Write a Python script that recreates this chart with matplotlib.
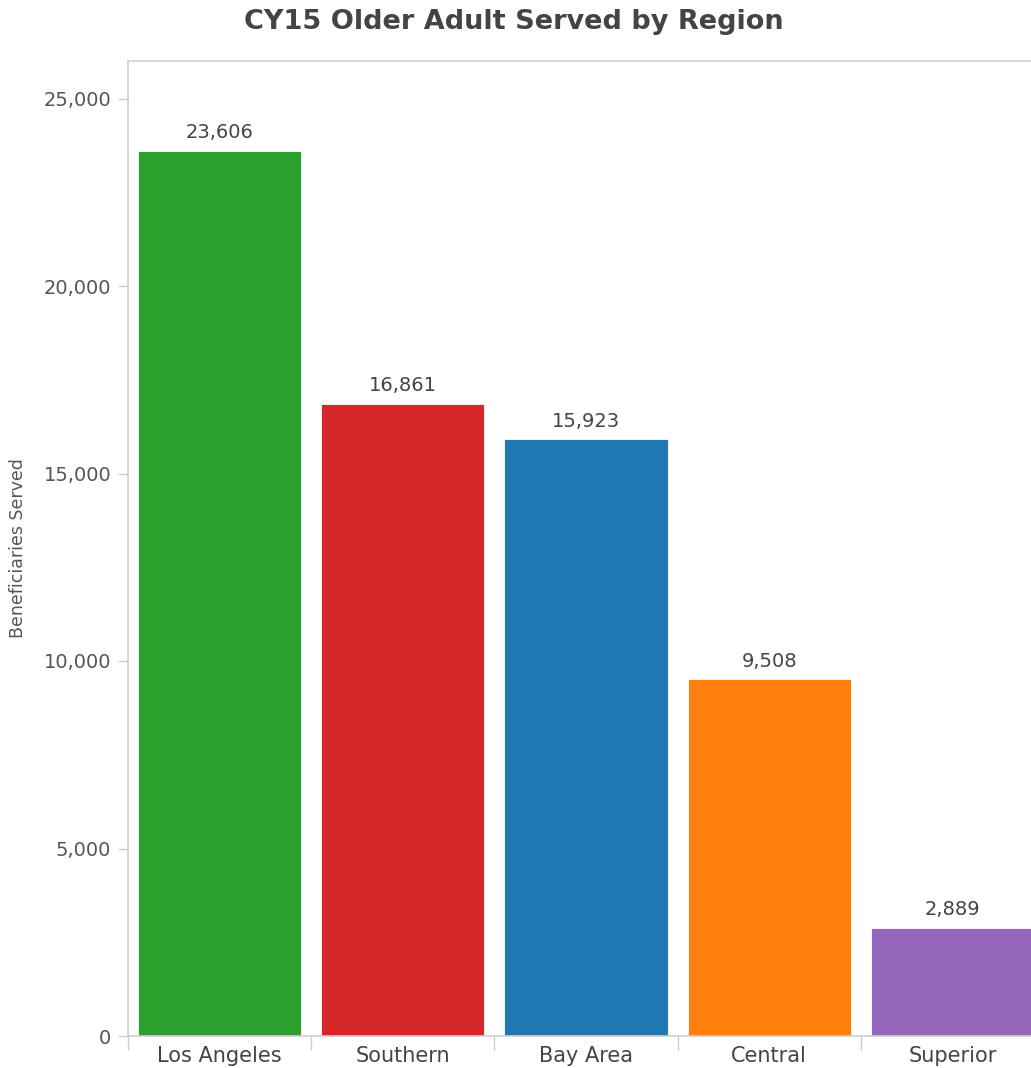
import matplotlib
matplotlib.use("Agg")
import matplotlib.pyplot as plt
from matplotlib.ticker import FuncFormatter, FixedLocator

regions = ["Los Angeles", "Southern", "Bay Area", "Central", "Superior"]
served = [23606, 16861, 15923, 9508, 2889]
colors = ["#2ca02c", "#d62728", "#1f77b4", "#ff7f0e", "#9467bd"]
y_ticks = [0, 5000, 10000, 15000, 20000, 25000]

W, H = 1031, 1068
fig = plt.figure(figsize=(W / 100, H / 100), dpi=100)
fig.patch.set_facecolor("white")

# plot area runs slightly past the right edge of the canvas
left, right = 128 / W, 1044 / W
bottom, top = 1 - 1036 / H, 1 - 61 / H
ax = fig.add_axes([left, bottom, right - left, top - bottom])

x = range(len(regions))
bars = ax.bar(x, served, width=0.89, color=colors, edgecolor="white",
              linewidth=0.6, zorder=2)

for xi, v in zip(x, served):
    ax.annotate(f"{v:,}", (xi, v), xytext=(0, 6), textcoords="offset points",
                ha="center", va="bottom", fontsize=14, color="#444444")

ax.set_xlim(-0.5, len(regions) - 0.5)
ax.set_ylim(0, 26000)

grey = "#cfcfcf"
ax.spines["right"].set_visible(False)
for s in ["left", "bottom", "top"]:
    ax.spines[s].set_color(grey)
    ax.spines[s].set_linewidth(1.2)

ax.set_yticks(y_ticks)
ax.yaxis.set_major_formatter(FuncFormatter(lambda v, p: f"{int(v):,}"))
ax.tick_params(axis="y", length=7, width=1, color=grey, labelsize=14,
               labelcolor="#555555", pad=5)

ax.set_xticks(list(x))
ax.set_xticklabels(regions)
ax.tick_params(axis="x", which="major", length=0, labelsize=15,
               labelcolor="#444444", pad=7)
ax.xaxis.set_minor_locator(FixedLocator([i - 0.5 for i in range(len(regions) + 1)]))
ax.tick_params(axis="x", which="minor", length=10, width=1, color=grey)

fig.text(18 / W, 1 - 548 / H, "Beneficiaries Served", rotation=90,
         ha="center", va="center", fontsize=12.5, color="#555555")

fig.text(514 / W, 1 - 22 / H, "CY15 Older Adult Served by Region",
         ha="center", va="center", fontsize=19.5, fontweight="bold",
         color="#444444")

fig.savefig("out.png", dpi=100, facecolor="white")
